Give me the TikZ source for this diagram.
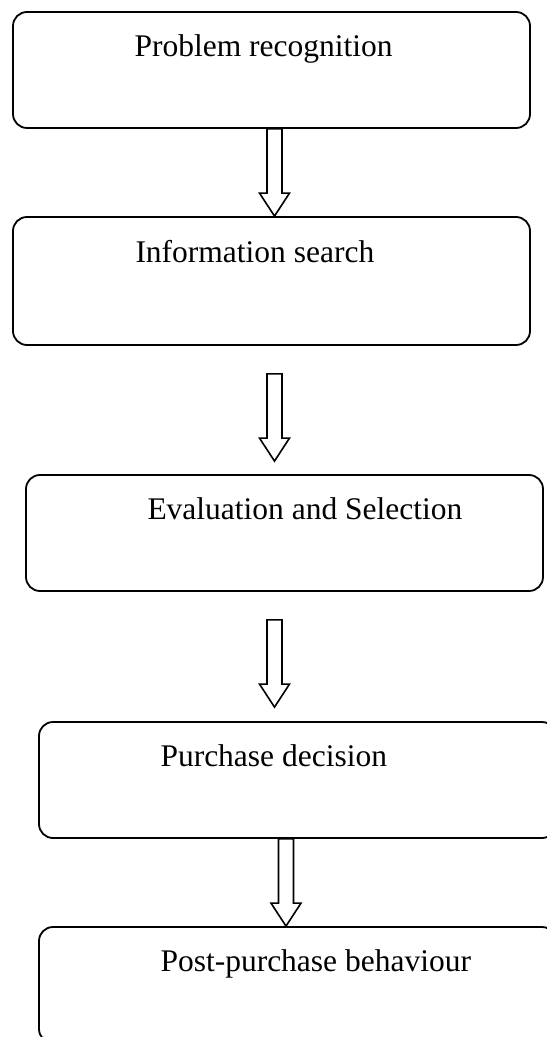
\documentclass[tikz,border=0pt]{standalone}
\usepackage{fontspec}
\setmainfont{Liberation Serif}
\usetikzlibrary{shapes,positioning,arrows}
\usetikzlibrary{calc}

\tikzset{
  stage/.style={draw, rounded corners=7pt, line width=0.9pt, minimum width=258.5pt, minimum height=58pt, inner sep=0pt},
  stagetext/.style={anchor=base west, inner sep=0pt, font=\fontsize{15.75pt}{19pt}\selectfont},
  blockarrow/.style={draw, line width=0.8pt, line join=miter,
    to path={($(\tikztostart)+(-7.5,0)$) -- ($(\tikztotarget)+(-7.5,-23)$) -- ($(\tikztotarget)+(-15,-23)$)
      -- (\tikztotarget) -- ($(\tikztotarget)+(15,-23)$) -- ($(\tikztotarget)+(7.5,-23)$)
      -- ($(\tikztostart)+(7.5,0)$) -- cycle}}
}

\begin{document}
\begin{tikzpicture}[x=0.5pt,y=-0.5pt]
    \useasboundingbox (0,0) rectangle (546,1037);

    \node[stage] (1) at (271.5,70) {};
    \node[stage, below of=1, node distance=105.5pt, minimum height=64pt] (2) {};
    \node[stage, below of=2, node distance=126pt, xshift=6.5pt] (3) {};
    \node[stage, below of=3, node distance=123.5pt, xshift=6.5pt] (4) {};
    \node[stage, below of=4, node distance=102.5pt] (5) {};

    \node[stagetext] (l1) at ([shift={(122,45)}]1.north west) {Problem recognition};
    \node[stagetext] (l2) at ([shift={(123,46)}]2.north west) {Information search};
    \node[stagetext] (l3) at ([shift={(122,45)}]3.north west) {Evaluation and Selection};
    \node[stagetext] (l4) at ([shift={(122,45)}]4.north west) {Purchase decision};
    \node[stagetext] (l5) at ([shift={(122,45)}]5.north west) {Post-purchase behaviour};

    \path
    ([xshift=1.5pt]1.south) edge[blockarrow] ([xshift=1.5pt]2.north)
    ([xshift=1.5pt,yshift=-14pt]2.south) edge[blockarrow] ([xshift=-5pt,yshift=6.5pt]3.north)
    ([xshift=-5pt,yshift=-14pt]3.south) edge[blockarrow] ([xshift=-11.5pt,yshift=7pt]4.north)
    ([xshift=-5.75pt]4.south) edge[blockarrow] ([xshift=-5.75pt]5.north);
\end{tikzpicture}
\end{document}
